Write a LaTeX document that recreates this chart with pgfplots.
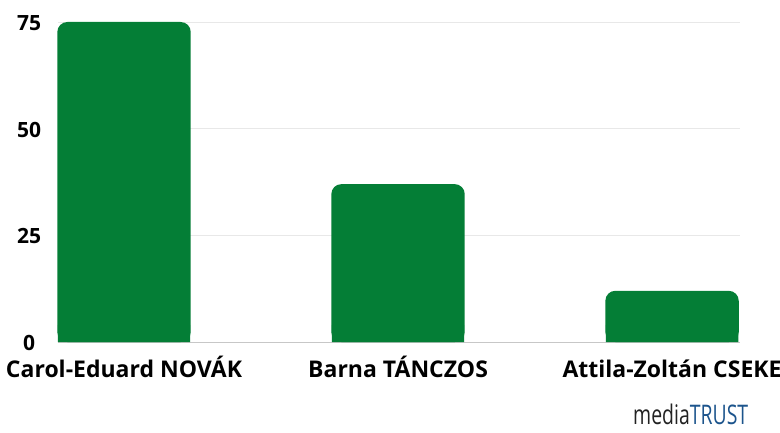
\documentclass[border=0pt]{standalone}
\usepackage{fontspec}
\setmainfont{Open Sans}
\usepackage{pgfplots}
\pgfplotsset{compat=1.18}
\definecolor{bargreen}{RGB}{4,126,54}
\definecolor{logoblue}{RGB}{28,84,140}
\definecolor{logogray}{RGB}{34,34,34}

\begin{document}
\begin{tikzpicture}[x=1pt,y=1pt]
  \path[use as bounding box] (0,0) rectangle (780,432);
  \begin{axis}[
    at={(58pt,90pt)}, anchor=south west,
    scale only axis,
    width=682pt, height=320pt,
    xmin=-0.241, xmax=2.248,
    ymin=0, ymax=75,
    ytick={0,25,50,75},
    xtick={0,1,2},
    xticklabels={Carol-Eduard NOVÁK, Barna TÁNCZOS, Attila-Zoltán CSEKE},
    axis line style={draw=none},
    major tick length=0pt,
    ymajorgrids,
    grid style={black!9, line width=0.6pt},
    /pgf/number format/assume math mode=true,
    yticklabel style={font=\fontsize{21}{24}\selectfont\bfseries, anchor=center, xshift=-29pt, yshift=-1pt},
    xticklabel style={font=\fontsize{23}{26}\selectfont\bfseries, anchor=base, yshift=-35pt},
    clip=false,
  ]
    \draw[black!22, line width=0.8pt] (rel axis cs:0,0) -- (rel axis cs:1,0);
    % square feet under the rounded bars (slightly narrower, hidden by them)
    \addplot[ybar, bar width=132.4pt, fill=bargreen, draw=none]
      coordinates {(0,4) (1,4) (2,4)};
    \addplot[ybar, bar width=133.4pt, fill=bargreen, draw=none, rounded corners=10pt]
      coordinates {(0,75) (1,37) (2,12)};
  \end{axis}
  \node[anchor=base west, inner sep=0pt] at (633,8)
    {\fontsize{27}{30}\selectfont\scalebox{0.72}[1]{\textcolor{logogray}{media}\textcolor{logoblue}{TRUST}}};
\end{tikzpicture}
\end{document}
